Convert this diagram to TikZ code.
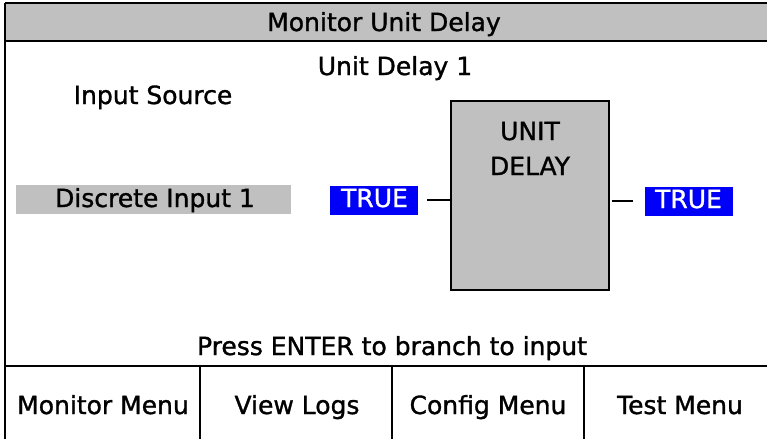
\documentclass[tikz,border=0pt]{standalone}
\usepackage{fontspec}
\setmainfont[FakeBold=1.2]{DejaVu Sans}
\definecolor{panelgray}{HTML}{C0C0C0}
\definecolor{truebl}{HTML}{0000F8}
\begin{document}
\begin{tikzpicture}[x=1pt,y=-1pt,
  lbl/.style={inner sep=0pt,anchor=base,font=\fontsize{25}{28}\selectfont},
  bluebox/.style={fill=truebl,inner sep=0pt,minimum width=88pt,minimum height=29pt},
  wire/.style={line width=2.6pt},
  frame/.style={line width=2.6pt}]
\useasboundingbox (0,0) rectangle (767,439);
\fill[white] (0,0) rectangle (767,439);
% title bar
\fill[panelgray] (5,3) rectangle (767,41);
\draw[frame] (5,3) -- (767,3);
\draw[frame] (5,41) -- (767,41);
\draw[frame] (5,3) -- (5,439);
\node[lbl] (title) at (384,31) {Monitor Unit Delay};
\node[lbl] (sub) at (395,75) {Unit Delay 1};
\node[lbl] (src) at (153,104) {Input Source};
\node[fill=panelgray,inner sep=0pt,minimum width=275pt,minimum height=29pt] (din) at (153.5,199) {};
\node[lbl] (dint) at (155,207) {Discrete Input 1};
\node[bluebox] (t1) at (374,200) {};
\node[lbl,text=white] (t1t) at (374.5,207) {TRUE};
\node[draw,line width=1.8pt,fill=panelgray,minimum width=158pt,minimum height=189pt,inner sep=0pt] (ud) at (530,195.5) {};
\node[lbl] (udt1) at (530,140) {UNIT};
\node[lbl] (udt2) at (530,175) {DELAY};
\node[bluebox] (t2) at (688.5,201) {};
\node[lbl,text=white] (t2t) at (688.5,208) {TRUE};
\draw[wire] ([xshift=9pt]t1.east) -- (ud.west |- t1.east);
\draw[wire] (ud.east |- t2.west) ++(2pt,0) -- ([xshift=-11pt]t2.west);
\node[lbl] (press) at (392,355) {Press ENTER to branch to input};
\draw[frame] (5,366) -- (767,366);
\coordinate (v1t) at (200,366); \coordinate (v1b) at (200,439);
\coordinate (v2t) at (392,366); \coordinate (v2b) at (392,439);
\coordinate (v3t) at (584,366); \coordinate (v3b) at (584,439);
\draw[frame] (v1t) -- (v1b);
\draw[frame] (v2t) -- (v2b);
\draw[frame] (v3t) -- (v3b);
\node[lbl] (b1) at (103,414) {Monitor Menu};
\node[lbl] (b2) at (297,414) {View Logs};
\node[lbl] (b3) at (488,414) {Config Menu};
\node[lbl] (b4) at (680,414) {Test Menu};
\end{tikzpicture}
\end{document}
